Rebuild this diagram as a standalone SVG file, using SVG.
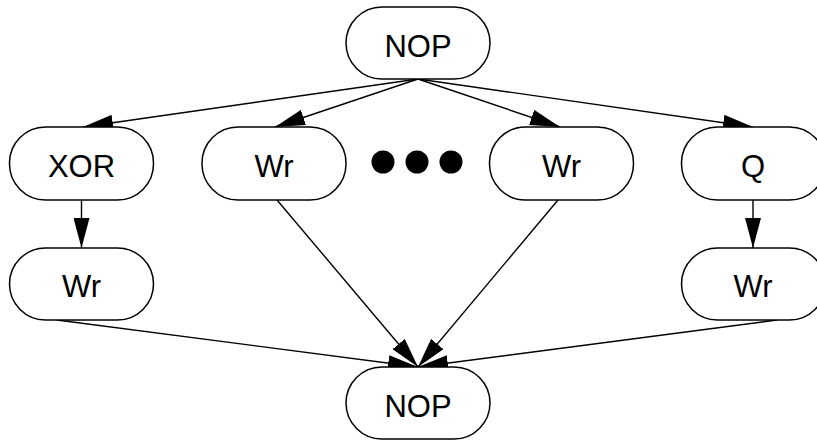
<svg xmlns="http://www.w3.org/2000/svg" width="817" height="440" viewBox="0 0 817 440">
<style>
.node{fill:#fff;stroke:#000;stroke-width:1.5}
.lbl{font-family:"Liberation Sans",Arial,sans-serif;font-size:31px;fill:#000;text-anchor:middle}
.edge{stroke:#000;stroke-width:1.4;fill:none;marker-end:url(#ah)}
</style>
<defs>
<marker id="ah" viewBox="0 0 30 16" refX="30" refY="8" markerWidth="30" markerHeight="16" markerUnits="userSpaceOnUse" orient="auto">
<path d="M0,0 L30,8 L0,16 z" fill="#000"/>
</marker>
</defs>
<rect width="817" height="440" fill="#fff"/>
<g id="connectors">
<line class="edge" x1="418" y1="79" x2="83" y2="127"/>
<line class="edge" x1="418" y1="79" x2="275" y2="127"/>
<line class="edge" x1="418" y1="79" x2="560" y2="127"/>
<line class="edge" x1="418" y1="79" x2="753" y2="127"/>
<line class="edge" x1="81.5" y1="200" x2="81.5" y2="248"/>
<line class="edge" x1="753" y1="200" x2="753" y2="248"/>
<line class="edge" x1="57" y1="320" x2="418" y2="367"/>
<line class="edge" x1="277" y1="200" x2="418" y2="367"/>
<line class="edge" x1="558" y1="200" x2="418" y2="367"/>
<line class="edge" x1="777" y1="320" x2="418" y2="367"/>
</g>
<g id="nop_top"><rect class="node" x="346" y="7" width="144" height="72" rx="36"/><text class="lbl" x="418" y="56.5">NOP</text></g>
<g id="xor"><rect class="node" x="9.5" y="127" width="144" height="73" rx="36"/><text class="lbl" x="81.5" y="177">XOR</text></g>
<g id="wr1"><rect class="node" x="202" y="127" width="144" height="73" rx="36"/><text class="lbl" x="274" y="177">Wr</text></g>
<g id="dots"><circle cx="383" cy="162" r="11.5"/><circle cx="417" cy="162" r="11.5"/><circle cx="451" cy="162" r="11.5"/></g>
<g id="wr2"><rect class="node" x="489.5" y="127" width="144" height="73" rx="36"/><text class="lbl" x="561.5" y="177">Wr</text></g>
<g id="q"><rect class="node" x="681.5" y="127" width="144" height="73" rx="36"/><text class="lbl" x="753" y="177">Q</text></g>
<g id="wr_left"><rect class="node" x="9.5" y="248" width="144" height="72" rx="36"/><text class="lbl" x="81.5" y="297">Wr</text></g>
<g id="wr_right"><rect class="node" x="681.5" y="248" width="144" height="72" rx="36"/><text class="lbl" x="753" y="297">Wr</text></g>
<g id="nop_bottom"><rect class="node" x="346" y="367" width="144" height="72" rx="36"/><text class="lbl" x="418" y="416.5">NOP</text></g>
</svg>
